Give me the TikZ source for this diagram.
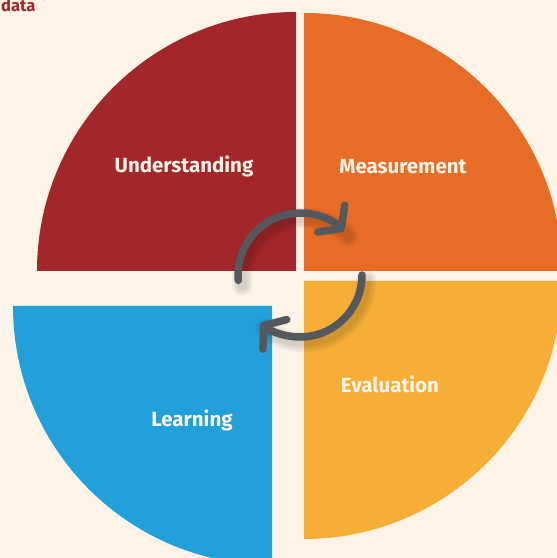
\documentclass[tikz,border=0pt]{standalone}
\usepackage{fontspec}
\setmainfont{Fira Sans}
\usepackage{xcolor}
\usetikzlibrary{positioning,calc,arrows.meta}

\definecolor{paper}{HTML}{FDF4E7}
\definecolor{wine}{HTML}{A3262A}
\definecolor{rust}{HTML}{E76C25}
\definecolor{amber}{HTML}{F6AE36}
\definecolor{sky}{HTML}{22A0DA}
\definecolor{slate}{HTML}{55595D}

\begin{document}
\begin{tikzpicture}[
    x=1pt, y=1pt,
    label/.style={text=paper, font=\bfseries\fontsize{20.5}{22}\selectfont},
    cycle arrow/.style={draw=slate, line width=7.5pt, line cap=round,
        -{Straight Barb[length=14pt, width=38pt, round]}},
    cycle shadow/.style={draw=black, opacity=0.05, line cap=round}
]
    \useasboundingbox (0,0) rectangle (557,558);
    \fill[paper] (0,0) rectangle (557,558);
    \clip (0,0) rectangle (557,558);

    % corner points of the four quarters
    \coordinate (nw) at (296,287);
    \coordinate (ne) at (304,287);
    \coordinate (se) at (304,277);
    \coordinate (sw) at (272,252);
    \coordinate (hub) at (300,283);

    \fill[wine]  (nw) -- ++(-259,0) arc[start angle=180, end angle=90,  radius=259] -- cycle;
    \fill[rust]  (ne) -- ++(0,258)  arc[start angle=90,  end angle=0,   radius=258] -- cycle;
    \fill[amber] (se) -- ++(258,0)  arc[start angle=0,   end angle=-90, radius=258] -- cycle;
    \fill[sky]   (sw) -- ++(0,-259) arc[start angle=270, end angle=180, radius=259] -- cycle;

    \node[label] (understanding) at (184,392) {Understanding};
    \node[label] (measurement)   at (403,391) {Measurement};
    \node[label] (evaluation)    at (390,174) {Evaluation};
    \node[label] (learning)      at (192,138) {Learning};

    \node[anchor=base west, inner sep=0pt, text=wine, font=\bfseries\fontsize{16.5}{18}\selectfont] (heading) at (1,546) {data};

    % soft shadow under the arrows
    \foreach \w in {20,15,10} {
        \draw[cycle shadow, line width=\w pt] ($(hub)+(185:62)+(4,-5)$) arc[start angle=185, end angle=45, radius=62];
        \draw[cycle shadow, line width=\w pt] ($(hub)+(0:62)+(4,-5)$) arc[start angle=0, end angle=-129, radius=62];
    }

    \draw[cycle arrow] ($(hub)+(185:62)$) arc[start angle=185, end angle=45, radius=62];
    \draw[cycle arrow] ($(hub)+(0:62)$) arc[start angle=0, end angle=-129, radius=62];
\end{tikzpicture}
\end{document}
